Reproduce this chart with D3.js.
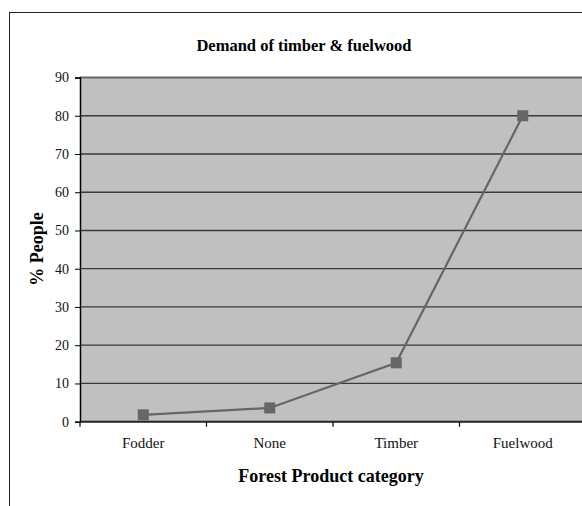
<!DOCTYPE html>
<html><head><meta charset="utf-8">
<script src="https://cdn.jsdelivr.net/npm/d3@7/dist/d3.min.js"></script>
<style>body{margin:0;background:#fff}svg{display:block}</style>
</head><body>
<script>
const categories = ["Fodder", "None", "Timber", "Fuelwood"];
const values = [1.8, 3.6, 15.4, 80];
const yTicks = [0, 10, 20, 30, 40, 50, 60, 70, 80, 90];
const titleText = "Demand of timber & fuelwood";
const xTitle = "Forest Product category";
const yTitle = "% People";

const W = 582, H = 506;
const svg = d3.select("body").append("svg").attr("width", W).attr("height", H);
const font = "'Liberation Serif','Times New Roman',serif";

// chart border
svg.append("rect").attr("x", 9.5).attr("y", 12.5).attr("width", 600).attr("height", 520)
  .attr("fill", "#fff").attr("stroke", "#222").attr("stroke-width", 1);

const pL = 80, pR = 586, pT = 77.5, pB = 421.7;
const x = d3.scaleBand().domain(categories).range([pL, pR]).padding(0);
const y = d3.scaleLinear().domain([0, 90]).range([pB, pT]);

svg.append("rect").attr("x", pL).attr("y", pT).attr("width", pR - pL).attr("height", pB - pT)
  .attr("fill", "#c0c0c0");

// gridlines
svg.append("g").selectAll("line").data(yTicks.filter(d => d > 0)).join("line")
  .attr("x1", pL).attr("x2", pR)
  .attr("y1", d => y(d)).attr("y2", d => y(d))
  .attr("stroke", d => d === 90 ? "#666" : "#3a3a3a").attr("stroke-width", d => d === 90 ? 2 : 1.3);

// y axis
const yAxis = d3.axisLeft(y).tickValues(yTicks).tickSize(5).tickPadding(6);
const gy = svg.append("g").attr("transform", `translate(${pL},0)`).call(yAxis);
gy.attr("font-family", font);
gy.select(".domain").attr("stroke", "#000").attr("stroke-width", 1.5);
gy.selectAll(".tick line").attr("stroke", "#000");
gy.selectAll("text").attr("font-family", font).attr("font-size", 14).attr("fill", "#111");

// x axis
const xAxis = d3.axisBottom(x).tickSize(0).tickPadding(16);
const gx = svg.append("g").attr("transform", `translate(0,${pB})`).call(xAxis);
gx.attr("font-family", font);
gx.select(".domain").remove();
gx.append("line").attr("x1", pL).attr("x2", pR).attr("stroke", "#222").attr("stroke-width", 2);
gx.selectAll(".tick text").attr("font-family", font).attr("font-size", 15).attr("fill", "#111");
const bounds = categories.map(c => x(c)).concat([pR]);
gx.append("g").selectAll("line").data(bounds).join("line")
  .attr("x1", d => d).attr("x2", d => d).attr("y1", 0).attr("y2", 5)
  .attr("stroke", "#000").attr("stroke-width", 1.2);

// line
const cx = c => x(c) + x.bandwidth() / 2;
const pts = categories.map((c, i) => [cx(c), y(values[i])]);
svg.append("path").attr("d", d3.line()(pts)).attr("fill", "none")
  .attr("stroke", "#666").attr("stroke-width", 2.2);
svg.append("g").selectAll("rect").data(pts).join("rect")
  .attr("x", d => d[0] - 5.5).attr("y", d => d[1] - 5.5).attr("width", 11).attr("height", 11)
  .attr("fill", "#666");

// titles
svg.append("text").attr("x", 304).attr("y", 51).attr("text-anchor", "middle")
  .attr("font-family", font).attr("font-weight", "bold").attr("font-size", 16.5).text(titleText);
svg.append("text").attr("x", (pL + pR) / 2 - 2).attr("y", 482).attr("text-anchor", "middle")
  .attr("font-family", font).attr("font-weight", "bold").attr("font-size", 18).text(xTitle);
svg.append("text").attr("transform", `translate(43,249) rotate(-90)`)
  .attr("text-anchor", "middle")
  .attr("font-family", font).attr("font-weight", "bold").attr("font-size", 18).text(yTitle);
</script>
</body></html>
